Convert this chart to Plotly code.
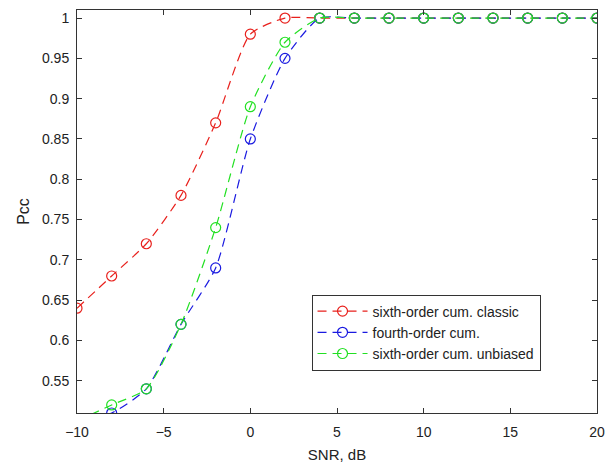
import plotly.graph_objects as go

snr = [-10, -8, -6, -4, -2, 0, 2, 4, 6, 8, 10, 12, 14, 16, 18, 20]
classic = [0.64, 0.68, 0.72, 0.78, 0.87, 0.98, 1.0, 1.0, 1.0, 1.0, 1.0, 1.0, 1.0, 1.0, 1.0, 1.0]
fourth = [0.50, 0.51, 0.54, 0.62, 0.69, 0.85, 0.95, 1.0, 1.0, 1.0, 1.0, 1.0, 1.0, 1.0, 1.0, 1.0]
unbiased = [0.50, 0.52, 0.54, 0.62, 0.74, 0.89, 0.97, 1.0, 1.0, 1.0, 1.0, 1.0, 1.0, 1.0, 1.0, 1.0]

names = ["sixth-order cum. classic", "fourth-order cum.", "sixth-order cum. unbiased"]
colors = ["#e8201c", "#1a1ae0", "#22e022"]
series = [classic, fourth, unbiased]

fig = go.Figure()
for name, col, ys in zip(names, colors, series):
    fig.add_trace(go.Scatter(
        x=snr, y=ys, name=name, mode="lines+markers",
        line=dict(color=col, width=1.2, dash="9px,6px", shape="spline", smoothing=0.6),
        marker=dict(symbol="circle-open", size=10, color=col, line=dict(width=1.2, color=col)),
        cliponaxis=True,
    ))

font = "Liberation Sans, Arial"
axis_common = dict(
    showgrid=False, zeroline=False, showline=True, linecolor="#333", linewidth=1,
    mirror="ticks", ticks="inside", ticklen=5, tickcolor="#333",
    tickfont=dict(family=font, size=14, color="#222"),
)
fig.update_xaxes(range=[-10, 20], tickvals=[-10, -5, 0, 5, 10, 15, 20],
                 ticklabelstandoff=6,
                 title=dict(text="SNR, dB", font=dict(family=font, size=15, color="#222"), standoff=10),
                 **axis_common)
fig.update_yaxes(range=[0.51, 1.01], tickvals=[0.55, 0.6, 0.65, 0.7, 0.75, 0.8, 0.85, 0.9, 0.95, 1],
                 ticktext=["0.55", "0.6", "0.65", "0.7", "0.75", "0.8", "0.85", "0.9", "0.95", "1"],
                 ticklabelstandoff=4,
                 title=dict(text="Pcc", font=dict(family=font, size=16, color="#222"), standoff=8),
                 **axis_common)

fig.update_layout(
    width=614, height=469,
    margin=dict(l=77, r=14, t=9, b=55),
    paper_bgcolor="white", plot_bgcolor="white",
    showlegend=True,
    legend=dict(x=0.451, y=0.294, xanchor="left", yanchor="top",
                bgcolor="white", bordercolor="#333", borderwidth=1,
                font=dict(family=font, size=14, color="#222"),
                itemwidth=50, tracegroupgap=0),
)

fig.write_html("out.html")
